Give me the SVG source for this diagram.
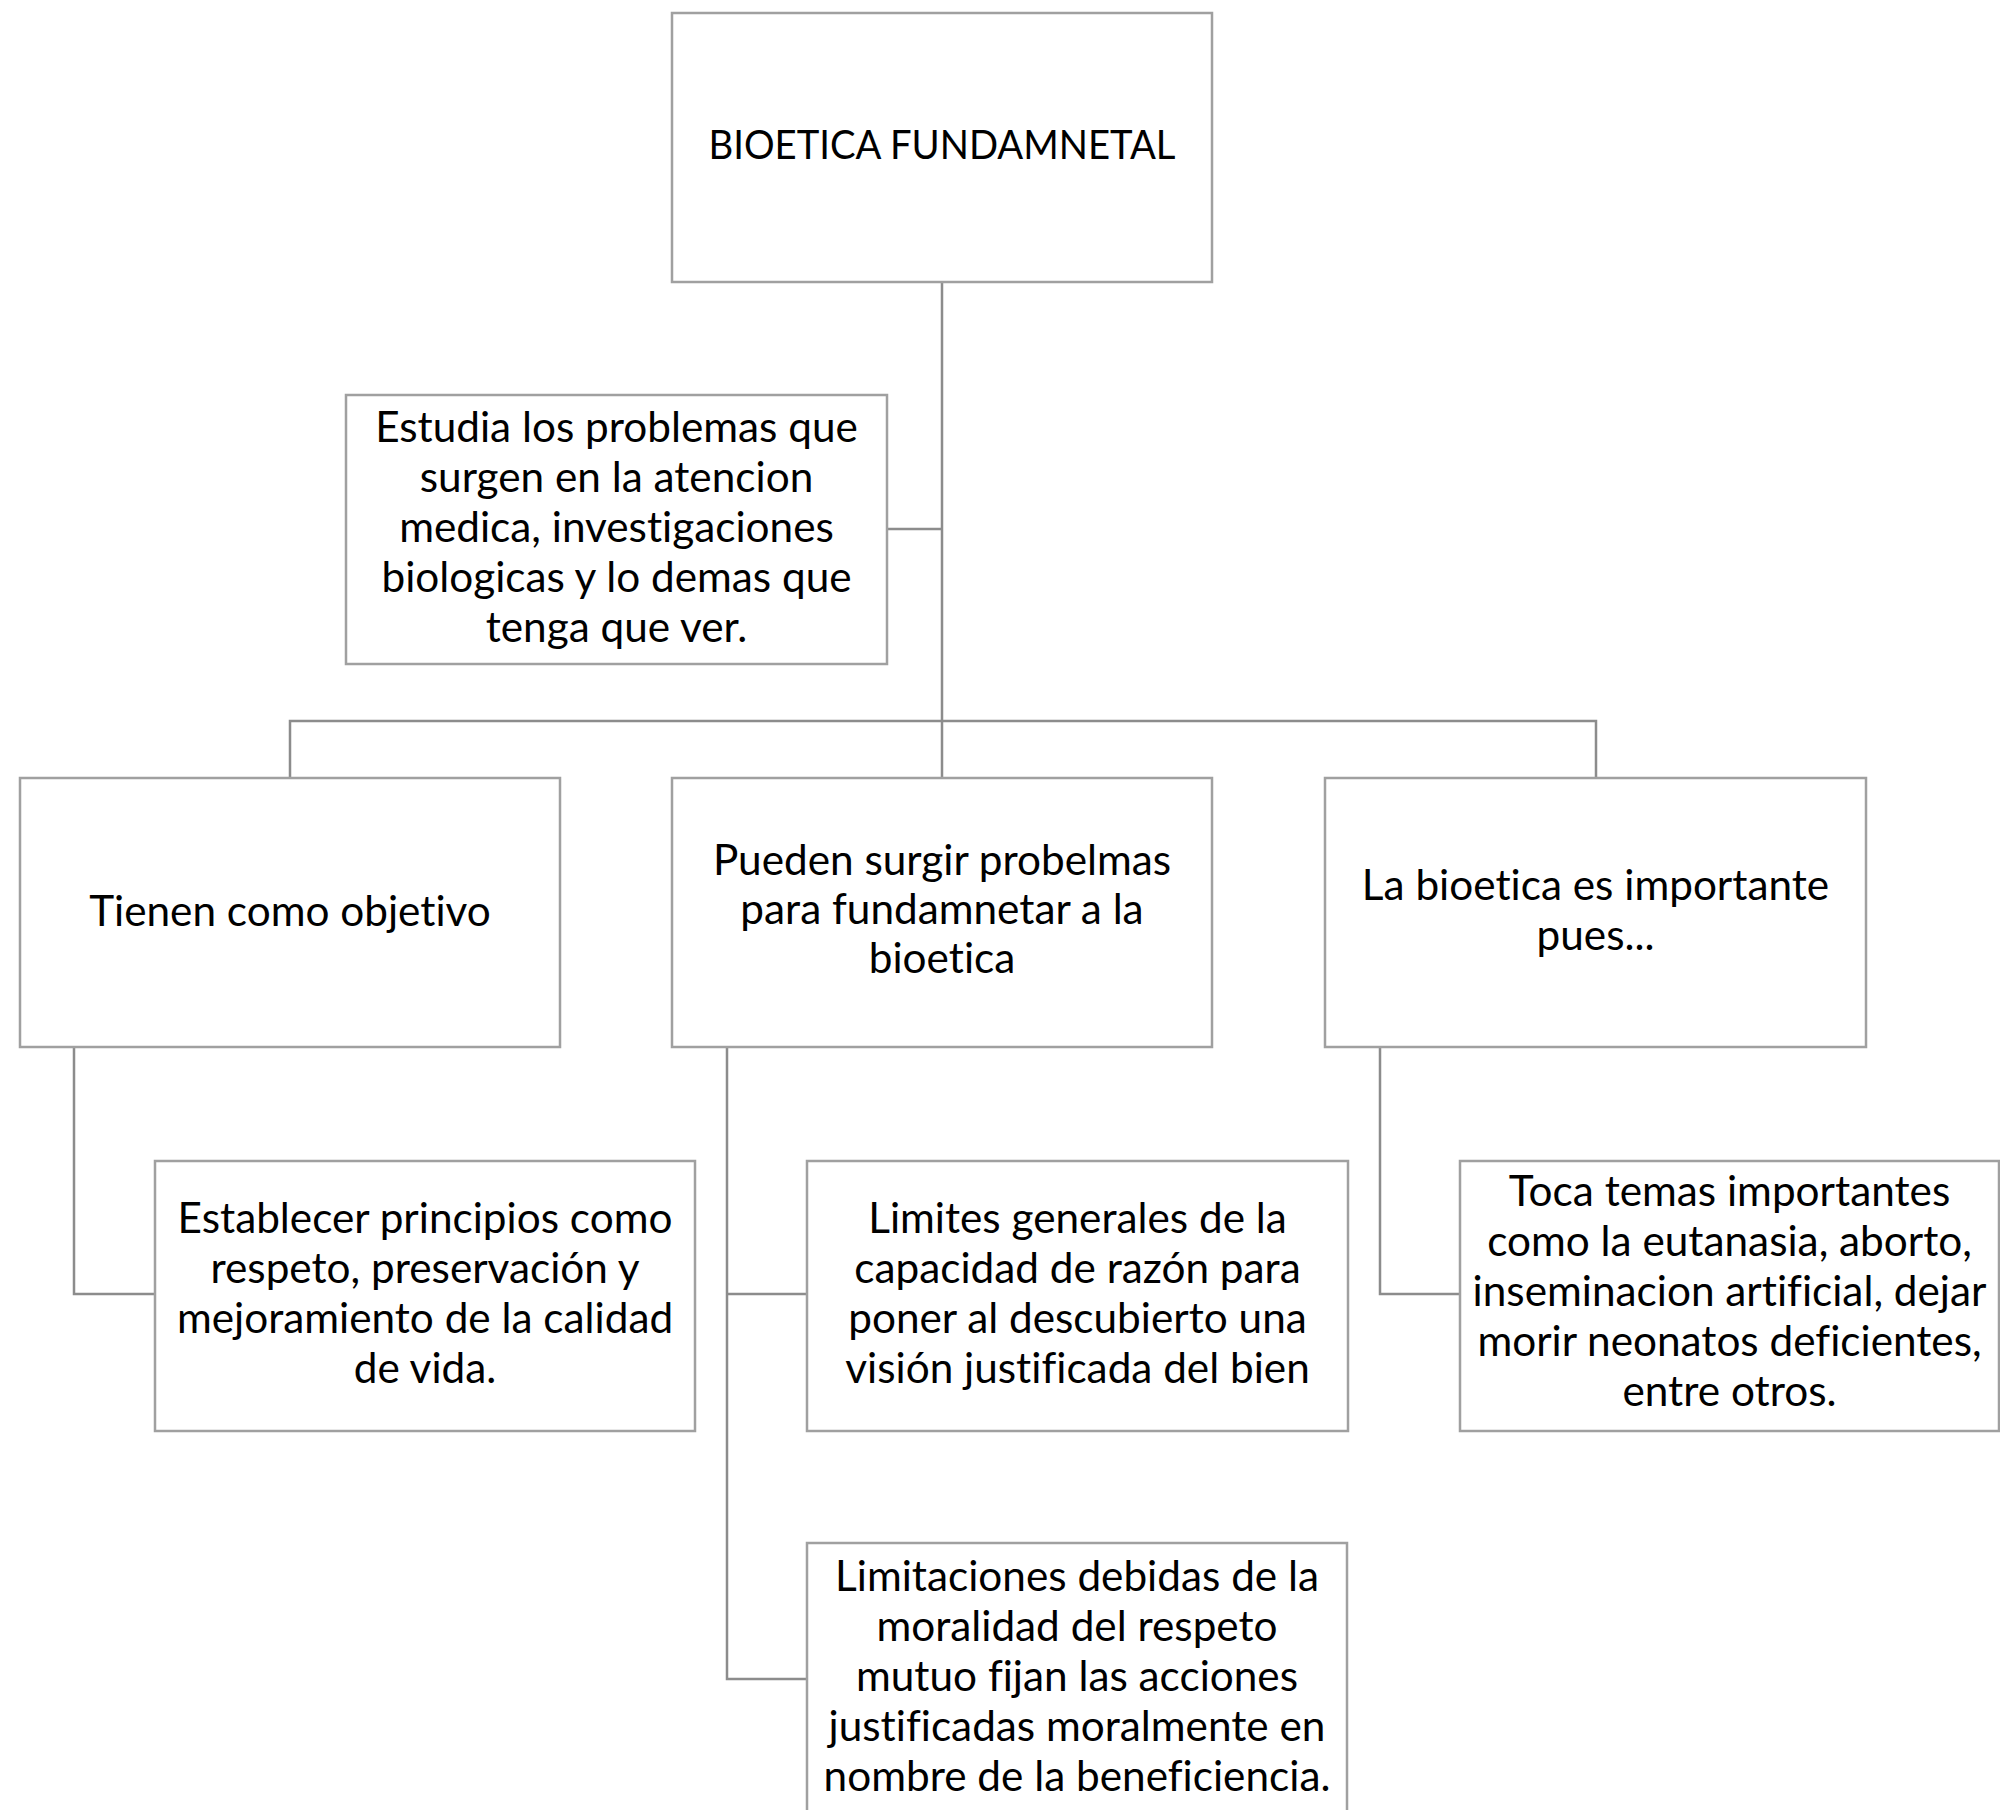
<svg xmlns="http://www.w3.org/2000/svg" width="2000" height="1810" viewBox="0 0 2000 1810">
<style>
.box{fill:#ffffff;stroke:#a0a0a0;stroke-width:2.5}
.conn{fill:none;stroke:#8c8c8c;stroke-width:2.5}
.t{font-family:Lato,"Liberation Sans",sans-serif;font-size:42.3px;fill:#000000;text-anchor:middle;font-variant-ligatures:none}
.title{font-size:41px}
</style>
<rect width="2000" height="1810" fill="#ffffff"/>
<g id="connectors">
<path class="conn" d="M942 282 V778"/>
<path class="conn" d="M887 529 H942"/>
<path class="conn" d="M290 778 V721 H1596 V778"/>
<path class="conn" d="M74 1047 V1294 H155"/>
<path class="conn" d="M727 1047 V1679 H807"/>
<path class="conn" d="M727 1294 H807"/>
<path class="conn" d="M1380 1047 V1294 H1460"/>
</g>
<g id="node-root">
<rect class="box" x="672" y="13" width="540" height="269"/>
<text class="t title" x="942" y="159" textLength="467" lengthAdjust="spacingAndGlyphs">BIOETICA FUNDAMNETAL</text>
</g>
<g id="node-estudia">
<rect class="box" x="346" y="395" width="541" height="269"/>
<text class="t" x="616.5" y="442">Estudia los problemas que</text>
<text class="t" x="616.5" y="492">surgen en la atencion</text>
<text class="t" x="616.5" y="542">medica, investigaciones</text>
<text class="t" x="616.5" y="592">biologicas y lo demas que</text>
<text class="t" x="616.5" y="642">tenga que ver.</text>
</g>
<g id="node-tienen">
<rect class="box" x="20" y="778" width="540" height="269"/>
<text class="t" x="290" y="926">Tienen como objetivo</text>
</g>
<g id="node-pueden">
<rect class="box" x="672" y="778" width="540" height="269"/>
<text class="t" x="942" y="875">Pueden surgir probelmas</text>
<text class="t" x="942" y="924">para fundamnetar a la</text>
<text class="t" x="942" y="973">bioetica</text>
</g>
<g id="node-importante">
<rect class="box" x="1325" y="778" width="541" height="269"/>
<text class="t" x="1595.5" y="900">La bioetica es importante</text>
<text class="t" x="1595.5" y="950">pues...</text>
</g>
<g id="node-establecer">
<rect class="box" x="155" y="1161" width="540" height="270"/>
<text class="t" x="425" y="1233">Establecer principios como</text>
<text class="t" x="425" y="1283">respeto, preservación y</text>
<text class="t" x="425" y="1333">mejoramiento de la calidad</text>
<text class="t" x="425" y="1383">de vida.</text>
</g>
<g id="node-limites">
<rect class="box" x="807" y="1161" width="541" height="270"/>
<text class="t" x="1077.5" y="1233">Limites generales de la</text>
<text class="t" x="1077.5" y="1283">capacidad de razón para</text>
<text class="t" x="1077.5" y="1333">poner al descubierto una</text>
<text class="t" x="1077.5" y="1383">visión justificada del bien</text>
</g>
<g id="node-toca">
<rect class="box" x="1460" y="1161" width="539" height="270"/>
<text class="t" x="1729.5" y="1206">Toca temas importantes</text>
<text class="t" x="1729.5" y="1256">como la eutanasia, aborto,</text>
<text class="t" x="1729.5" y="1306">inseminacion artificial, dejar</text>
<text class="t" x="1729.5" y="1356">morir neonatos deficientes,</text>
<text class="t" x="1729.5" y="1406">entre otros.</text>
</g>
<g id="node-limitaciones">
<rect class="box" x="807" y="1543" width="540" height="275"/>
<text class="t" x="1077" y="1591">Limitaciones debidas de la</text>
<text class="t" x="1077" y="1641">moralidad del respeto</text>
<text class="t" x="1077" y="1691">mutuo fijan las acciones</text>
<text class="t" x="1077" y="1741">justificadas moralmente en</text>
<text class="t" x="1077" y="1791">nombre de la beneficiencia.</text>
</g>
</svg>
